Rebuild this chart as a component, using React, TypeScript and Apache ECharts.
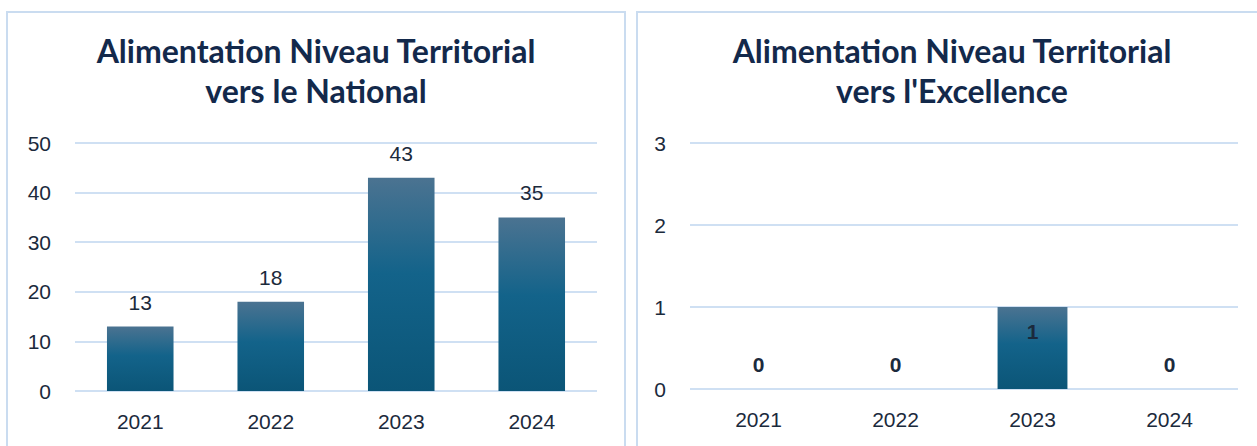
import React, { useEffect, useRef } from "react";
import * as echarts from "echarts";

const categories = ["2021", "2022", "2023", "2024"];
const nationalValues = [13, 18, 43, 35];
const excellenceValues = [0, 0, 1, 0];
const titleNational = "Alimentation Niveau Territorial\nvers le National";
const titleExcellence = "Alimentation Niveau Territorial\nvers l'Excellence";

const textColor = "#1b2a3c";
const titleColor = "#13294b";
const gridColor = "#cfe0f3";

const barGradient = () =>
  new echarts.graphic.LinearGradient(0, 0, 0, 1, [
    { offset: 0, color: "#4b7391" },
    { offset: 0.45, color: "#13638a" },
    { offset: 1, color: "#0b5577" },
  ]);

export default function App() {
  const ref = useRef<HTMLDivElement>(null);
  useEffect(() => {
    if (!ref.current) return;
    const chart = echarts.init(ref.current, null, { renderer: "svg" });
    const axisLabelStyle = {
      color: textColor,
      fontSize: 21,
      fontFamily: "Liberation Sans, Arial, sans-serif",
    };
    const titleStyle = {
      color: titleColor,
      fontSize: 32,
      fontWeight: "bold",
      fontFamily: "Lato, sans-serif",
      lineHeight: 40,
    };
    chart.setOption({
      animation: false,
      backgroundColor: "#ffffff",
      graphic: [
        {
          type: "rect",
          shape: { x: 7, y: 12, width: 618, height: 470 },
          style: { fill: "none", stroke: "#cadcf0", lineWidth: 2 },
          z: -1,
        },
        {
          type: "rect",
          shape: { x: 637, y: 12, width: 660, height: 470 },
          style: { fill: "none", stroke: "#cadcf0", lineWidth: 2 },
          z: -1,
        },
      ],
      title: [
        {
          text: titleNational,
          left: 316,
          top: 30,
          padding: 0,
          textAlign: "center",
          textStyle: titleStyle,
        },
        {
          text: titleExcellence,
          left: 952,
          top: 30,
          padding: 0,
          textAlign: "center",
          textStyle: titleStyle,
        },
      ],
      grid: [
        { left: 75, right: 660, top: 143, bottom: 55 },
        { left: 690, right: 19, top: 143, bottom: 57 },
      ],
      xAxis: [0, 1].map((i) => ({
        type: "category",
        gridIndex: i,
        data: categories,
        axisLine: { show: false },
        axisTick: { show: false },
        axisLabel: { ...axisLabelStyle, margin: 20 },
      })),
      yAxis: [
        {
          type: "value",
          gridIndex: 0,
          min: 0,
          max: 50,
          interval: 10,
          axisLine: { show: false },
          axisTick: { show: false },
          axisLabel: { ...axisLabelStyle, margin: 24 },
          splitLine: { lineStyle: { color: gridColor, width: 2 } },
        },
        {
          type: "value",
          gridIndex: 1,
          min: 0,
          max: 3,
          interval: 1,
          axisLine: { show: false },
          axisTick: { show: false },
          axisLabel: { ...axisLabelStyle, margin: 24 },
          splitLine: { lineStyle: { color: gridColor, width: 2 } },
        },
      ],
      series: [
        {
          type: "bar",
          xAxisIndex: 0,
          yAxisIndex: 0,
          data: nationalValues,
          barWidth: "51%",
          itemStyle: { color: barGradient() },
          label: {
            show: true,
            position: "top",
            distance: 14,
            color: textColor,
            fontSize: 21,
            fontFamily: "Liberation Sans, Arial, sans-serif",
          },
        },
        {
          type: "bar",
          xAxisIndex: 1,
          yAxisIndex: 1,
          data: excellenceValues.map((v) => ({
            value: v,
            label:
              v > 0
                ? { position: "insideTop", distance: 14 }
                : { position: "top", distance: 14 },
          })),
          barWidth: "51%",
          itemStyle: { color: barGradient() },
          label: {
            show: true,
            color: textColor,
            fontSize: 21,
            fontWeight: "bold",
            fontFamily: "Liberation Sans, Arial, sans-serif",
          },
        },
      ],
    });
    return () => chart.dispose();
  }, []);
  return (
    <div
      ref={ref}
      style={{ position: "fixed", left: 0, top: 0, width: 1257, height: 446 }}
    />
  );
}
